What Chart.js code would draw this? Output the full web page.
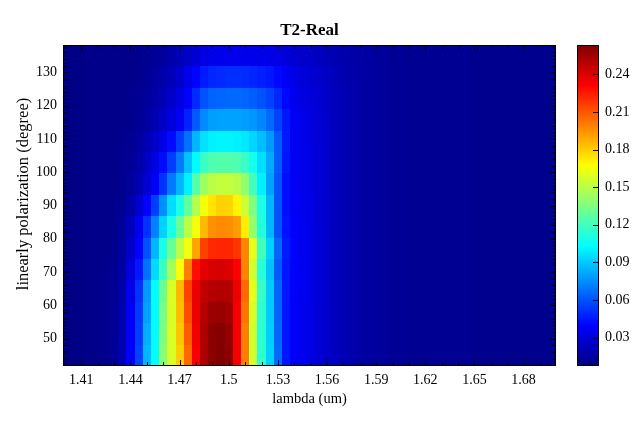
<!DOCTYPE html>
<html><head><meta charset="utf-8">
<script src="https://cdn.jsdelivr.net/npm/chart.js@4.4.0/dist/chart.umd.min.js"></script>
<style>html,body{margin:0;padding:0;background:#fff;}#wrap{width:640px;height:423px;position:relative;}canvas{display:block;}</style>
</head><body><div id="wrap"><canvas id="c" width="640" height="423"></canvas></div>
<script>
const chartTitle = 'T2-Real';
const xTitle = 'lambda (um)';
const yTitle = 'linearly polarization (degree)';
const lambdaValues = [1.400,1.405,1.410,1.415,1.420,1.425,1.430,1.435,1.440,1.445,1.450,1.455,1.460,1.465,1.470,1.475,1.480,1.485,1.490,1.495,1.500,1.505,1.510,1.515,1.520,1.525,1.530,1.535,1.540,1.545,1.550,1.555,1.560,1.565,1.570,1.575,1.580,1.585,1.590,1.595,1.600,1.605,1.610,1.615,1.620,1.625,1.630,1.635,1.640,1.645,1.650,1.655,1.660,1.665,1.670,1.675,1.680,1.685,1.690,1.695,1.700];
const polarizationValues = [45,51.43,57.86,64.29,70.71,77.14,83.57,90,96.43,102.86,109.29,115.71,122.14,128.57,135];
const xTickLabels = [1.41,1.44,1.47,1.5,1.53,1.56,1.59,1.62,1.65,1.68];
const yTickLabels = [50,60,70,80,90,100,110,120,130];
const colorbarTickLabels = [0.03,0.06,0.09,0.12,0.15,0.18,0.21,0.24];
const colorMin = 0.0074, colorMax = 0.2634;

const t2_045 = [0.008,0.009,0.009,0.010,0.010,0.011, 0.013,0.020,0.039,0.056,0.085,0.103,0.137,0.158,0.180,0.205,0.233,0.252,0.260,0.263,0.259,0.234,0.200,0.155,0.115,0.092,0.066,0.045,0.038,0.035,0.033, 0.029,0.026,0.023,0.021,0.019,0.017,0.016,0.015,0.014,0.013,0.013,0.012,0.012,0.012,0.012,0.012,0.012,0.012,0.012,0.011,0.011,0.011,0.011,0.011,0.011,0.011,0.011,0.011,0.011,0.011];
const t2_051 = [0.008,0.009,0.009,0.010,0.010,0.011, 0.013,0.020,0.038,0.055,0.083,0.103,0.135,0.158,0.182,0.208,0.235,0.252,0.260,0.262,0.258,0.234,0.200,0.155,0.114,0.091,0.065,0.045,0.038,0.035,0.033, 0.029,0.026,0.023,0.021,0.019,0.017,0.016,0.015,0.014,0.013,0.013,0.012,0.012,0.012,0.012,0.012,0.012,0.012,0.012,0.011,0.011,0.011,0.011,0.011,0.011,0.011,0.011,0.011,0.011,0.011];
const t2_058 = [0.008,0.009,0.009,0.010,0.010,0.011, 0.013,0.019,0.037,0.054,0.080,0.103,0.133,0.158,0.184,0.212,0.236,0.250,0.256,0.257,0.254,0.234,0.202,0.157,0.115,0.090,0.064,0.045,0.038,0.035,0.033, 0.029,0.026,0.023,0.021,0.019,0.017,0.016,0.015,0.014,0.013,0.013,0.012,0.012,0.012,0.012,0.012,0.012,0.012,0.012,0.011,0.011,0.011,0.011,0.011,0.011,0.011,0.011,0.011,0.011,0.011];
const t2_064 = [0.008,0.009,0.009,0.010,0.010,0.011, 0.012,0.018,0.035,0.052,0.078,0.103,0.130,0.158,0.185,0.215,0.236,0.247,0.250,0.251,0.250,0.236,0.205,0.160,0.117,0.090,0.064,0.045,0.039,0.036,0.033, 0.029,0.026,0.023,0.021,0.019,0.017,0.016,0.015,0.014,0.013,0.013,0.012,0.012,0.012,0.012,0.012,0.012,0.012,0.012,0.011,0.011,0.011,0.011,0.011,0.011,0.011,0.011,0.011,0.011,0.011];
const t2_071 = [0.008,0.009,0.009,0.010,0.010,0.011, 0.012,0.016,0.030,0.045,0.068,0.094,0.118,0.145,0.167,0.200,0.228,0.238,0.241,0.242,0.240,0.232,0.198,0.155,0.113,0.088,0.062,0.045,0.039,0.036,0.033, 0.029,0.026,0.023,0.021,0.019,0.017,0.016,0.015,0.014,0.013,0.013,0.012,0.012,0.012,0.012,0.012,0.012,0.012,0.012,0.011,0.011,0.011,0.011,0.011,0.011,0.011,0.011,0.011,0.011,0.011];
const t2_077 = [0.008,0.009,0.009,0.010,0.010,0.010, 0.011,0.015,0.026,0.040,0.060,0.085,0.110,0.130,0.150,0.165,0.190,0.215,0.221,0.222,0.222,0.218,0.198,0.160,0.120,0.092,0.065,0.046,0.040,0.036,0.033, 0.029,0.026,0.023,0.021,0.019,0.017,0.016,0.015,0.014,0.013,0.013,0.012,0.012,0.012,0.012,0.012,0.012,0.012,0.012,0.011,0.011,0.011,0.011,0.011,0.011,0.011,0.011,0.011,0.011,0.011];
const t2_084 = [0.008,0.009,0.009,0.010,0.010,0.010, 0.011,0.014,0.022,0.036,0.052,0.072,0.092,0.110,0.130,0.150,0.165,0.185,0.195,0.197,0.196,0.192,0.172,0.140,0.112,0.085,0.060,0.044,0.039,0.036,0.033, 0.029,0.026,0.023,0.021,0.019,0.017,0.016,0.015,0.014,0.013,0.013,0.012,0.012,0.012,0.012,0.012,0.012,0.012,0.012,0.011,0.011,0.011,0.011,0.011,0.011,0.011,0.011,0.011,0.011,0.011];
const t2_090 = [0.008,0.009,0.009,0.010,0.010,0.010, 0.010,0.012,0.018,0.027,0.040,0.055,0.075,0.095,0.110,0.128,0.148,0.165,0.174,0.179,0.178,0.170,0.155,0.135,0.110,0.085,0.060,0.043,0.038,0.035,0.033, 0.029,0.026,0.023,0.021,0.019,0.017,0.016,0.015,0.014,0.013,0.013,0.012,0.012,0.012,0.012,0.012,0.012,0.012,0.012,0.011,0.011,0.011,0.011,0.011,0.011,0.011,0.011,0.011,0.011,0.011];
const t2_096 = [0.008,0.009,0.009,0.010,0.010,0.010, 0.010,0.011,0.014,0.020,0.028,0.038,0.052,0.070,0.085,0.100,0.125,0.143,0.150,0.152,0.152,0.150,0.140,0.120,0.100,0.080,0.060,0.043,0.037,0.034,0.032, 0.029,0.026,0.023,0.021,0.019,0.017,0.016,0.015,0.014,0.013,0.013,0.012,0.012,0.012,0.012,0.012,0.012,0.012,0.012,0.011,0.011,0.011,0.011,0.011,0.011,0.011,0.011,0.011,0.011,0.011];
const t2_103 = [0.008,0.009,0.009,0.010,0.010,0.010, 0.010,0.011,0.013,0.017,0.024,0.032,0.042,0.055,0.070,0.088,0.103,0.118,0.123,0.124,0.124,0.123,0.118,0.108,0.095,0.082,0.062,0.045,0.037,0.034,0.032, 0.029,0.026,0.023,0.021,0.019,0.017,0.016,0.015,0.014,0.013,0.013,0.012,0.012,0.012,0.012,0.012,0.012,0.012,0.012,0.011,0.011,0.011,0.011,0.011,0.011,0.011,0.011,0.011,0.011,0.011];
const t2_109 = [0.008,0.009,0.009,0.010,0.010,0.010, 0.010,0.011,0.012,0.015,0.020,0.026,0.033,0.042,0.055,0.068,0.085,0.096,0.100,0.101,0.101,0.100,0.098,0.093,0.087,0.078,0.062,0.046,0.037,0.034,0.032, 0.029,0.026,0.023,0.021,0.019,0.017,0.016,0.015,0.014,0.013,0.013,0.012,0.012,0.012,0.012,0.012,0.012,0.012,0.012,0.011,0.011,0.011,0.011,0.011,0.011,0.011,0.011,0.011,0.011,0.011];
const t2_116 = [0.008,0.009,0.009,0.010,0.010,0.010, 0.010,0.010,0.011,0.013,0.016,0.020,0.025,0.031,0.037,0.048,0.062,0.074,0.079,0.080,0.080,0.080,0.079,0.077,0.073,0.066,0.056,0.045,0.037,0.034,0.031, 0.029,0.026,0.023,0.021,0.019,0.017,0.016,0.015,0.014,0.013,0.013,0.012,0.012,0.012,0.012,0.012,0.012,0.012,0.012,0.011,0.011,0.011,0.011,0.011,0.011,0.011,0.011,0.011,0.011,0.011];
const t2_122 = [0.008,0.009,0.009,0.010,0.010,0.010, 0.010,0.010,0.011,0.012,0.014,0.017,0.021,0.026,0.032,0.040,0.050,0.060,0.064,0.065,0.066,0.066,0.065,0.063,0.060,0.056,0.049,0.041,0.035,0.032,0.030, 0.028,0.025,0.023,0.021,0.019,0.017,0.016,0.015,0.014,0.013,0.013,0.012,0.012,0.012,0.012,0.012,0.012,0.012,0.012,0.011,0.011,0.011,0.011,0.011,0.011,0.011,0.011,0.011,0.011,0.011];
const t2_129 = [0.008,0.009,0.009,0.010,0.010,0.010, 0.010,0.010,0.010,0.011,0.013,0.015,0.018,0.022,0.027,0.034,0.040,0.046,0.049,0.050,0.051,0.051,0.050,0.049,0.047,0.045,0.041,0.037,0.033,0.030,0.028, 0.026,0.024,0.022,0.020,0.018,0.017,0.016,0.015,0.014,0.013,0.013,0.012,0.012,0.012,0.012,0.012,0.012,0.012,0.012,0.011,0.011,0.011,0.011,0.011,0.011,0.011,0.011,0.011,0.011,0.011];
const t2_135 = [0.008,0.009,0.009,0.010,0.010,0.010, 0.010,0.010,0.010,0.011,0.012,0.013,0.015,0.018,0.021,0.025,0.029,0.032,0.034,0.035,0.035,0.035,0.035,0.035,0.034,0.033,0.032,0.030,0.028,0.026,0.025, 0.023,0.022,0.020,0.019,0.018,0.017,0.016,0.015,0.014,0.013,0.013,0.012,0.012,0.012,0.012,0.012,0.012,0.012,0.012,0.011,0.011,0.011,0.011,0.011,0.011,0.011,0.011,0.011,0.011,0.011];
const t2Rows = [t2_045,t2_051,t2_058,t2_064,t2_071,t2_077,t2_084,t2_090,t2_096,t2_103,t2_109,t2_116,t2_122,t2_129,t2_135];

const cells = [];
t2Rows.forEach((row, i) => row.forEach((v, j) => cells.push({x: lambdaValues[j], y: polarizationValues[i], v, i, j})));

function edges(arr){
  const e = [];
  for (let k = 0; k <= arr.length; k++) {
    if (k === 0) e.push(arr[0] - (arr[1]-arr[0])/2);
    else if (k === arr.length) e.push(arr[k-1] + (arr[k-1]-arr[k-2])/2);
    else e.push((arr[k-1]+arr[k])/2);
  }
  return e;
}
const xEdges = edges(lambdaValues), yEdges = edges(polarizationValues);

function jet(t){
  t = Math.max(0, Math.min(1, t));
  const c = u => Math.round(255*Math.max(0, Math.min(1, u)));
  return 'rgb(' + c(1.5-Math.abs(4*t-3)) + ',' + c(1.5-Math.abs(4*t-2)) + ',' + c(1.5-Math.abs(4*t-1)) + ')';
}

const FONT = "'Liberation Serif', 'Times New Roman', serif";
const AREA = {left: 63, top: 45, right: 556, bottom: 366};

const heatPlugin = {
  id: 'heat',
  beforeDatasetsDraw(chart){
    const {ctx, chartArea: a, scales: {x, y}} = chart;
    ctx.save();
    ctx.beginPath(); ctx.rect(a.left, a.top, a.right-a.left, a.bottom-a.top); ctx.clip();
    chart.data.datasets[0].data.forEach(p => {
      const x0 = Math.round(x.getPixelForValue(xEdges[p.j])), x1 = Math.round(x.getPixelForValue(xEdges[p.j+1]));
      const y0 = Math.round(y.getPixelForValue(yEdges[p.i+1])), y1 = Math.round(y.getPixelForValue(yEdges[p.i]));
      ctx.fillStyle = jet((p.v - colorMin)/(colorMax - colorMin));
      ctx.fillRect(x0, y0, x1-x0, y1-y0);
    });
    ctx.restore();
  },
  afterDraw(chart){
    const {ctx, chartArea: a, scales: {x, y, cb}} = chart;
    ctx.save();
    ctx.strokeStyle = '#000'; ctx.lineWidth = 1;
    ctx.strokeRect(a.left+0.5, a.top+0.5, a.right-a.left-1, a.bottom-a.top-1);
    ctx.beginPath();
    for (let k = 140; k <= 169; k++) {
      const v = k/100;
      const major = xTickLabels.some(t => Math.abs(t-v) < 1e-6);
      const len = major ? 6 : 4;
      const px = Math.round(x.getPixelForValue(v)) + 0.5;
      ctx.moveTo(px, a.bottom); ctx.lineTo(px, a.bottom-len);
      ctx.moveTo(px, a.top); ctx.lineTo(px, a.top+len);
    }
    for (let v = 42; v <= 138; v += 2) {
      const major = yTickLabels.includes(v);
      const len = major ? 6 : 4;
      const py = Math.round(y.getPixelForValue(v)) + 0.5;
      ctx.moveTo(a.left, py); ctx.lineTo(a.left+len, py);
      ctx.moveTo(a.right, py); ctx.lineTo(a.right-len, py);
    }
    ctx.stroke();
    // colorbar
    const cbL = 577, cbR = 599;
    const top = Math.round(cb.getPixelForValue(colorMax)), bot = Math.round(cb.getPixelForValue(colorMin));
    for (let py = top; py < bot; py++) {
      const v = cb.getValueForPixel(py + 0.5);
      ctx.fillStyle = jet((v - colorMin)/(colorMax - colorMin));
      ctx.fillRect(cbL, py, cbR-cbL, 1);
    }
    ctx.strokeRect(cbL+0.5, top+0.5, cbR-cbL-1, bot-top-1);
    ctx.beginPath();
    colorbarTickLabels.forEach(v => {
      const py = Math.round(cb.getPixelForValue(v)) + 0.5;
      ctx.moveTo(cbR-6, py); ctx.lineTo(cbR, py);
    });
    ctx.stroke();
    ctx.fillStyle = '#000';
    ctx.font = '14px ' + FONT;
    ctx.textAlign = 'left';
    ctx.textBaseline = 'middle';
    colorbarTickLabels.forEach(v => {
      ctx.fillText(v.toFixed(2), 605, cb.getPixelForValue(v));
    });
    // texts
    const cx = (a.left + a.right)/2;
    ctx.textAlign = 'center';
    ctx.textBaseline = 'alphabetic';
    ctx.font = 'bold 17px ' + FONT;
    ctx.fillText(chartTitle, cx, 35);
    ctx.font = '14.5px ' + FONT;
    ctx.textBaseline = 'middle';
    ctx.fillText(xTitle, cx, 399);
    ctx.font = '16.5px ' + FONT;
    ctx.translate(24, 194);
    ctx.rotate(-Math.PI/2);
    ctx.fillText(yTitle, 0, 0);
    ctx.restore();
  }
};

const tickFont = {family: FONT, size: 14};
const chart = new Chart(document.getElementById('c'), {
  type: 'scatter',
  data: {datasets: [{data: cells, pointRadius: 0, pointHoverRadius: 0, borderWidth: 0, showLine: false}]},
  options: {
    responsive: false, animation: false, events: [],
    layout: {autoPadding: false, padding: {top: AREA.top, left: 0, right: 0, bottom: 0}},
    plugins: {legend: {display: false}, tooltip: {enabled: false}, title: {display: false}},
    scales: {
      x: {type: 'linear', position: 'bottom', min: 1.3988, max: 1.6998,
          grid: {display: false, drawTicks: false}, border: {display: false},
          afterBuildTicks: s => { s.ticks = xTickLabels.map(v => ({value: v})); },
          ticks: {font: tickFont, color: '#000', padding: 6, maxRotation: 0, autoSkip: false, callback: v => String(v)},
          afterFit: s => { s.height = 423 - AREA.bottom; }},
      y: {type: 'linear', position: 'left', min: 41.786, max: 138.214,
          grid: {display: false, drawTicks: false}, border: {display: false},
          afterBuildTicks: s => { s.ticks = yTickLabels.map(v => ({value: v})); },
          ticks: {font: tickFont, color: '#000', padding: 6, autoSkip: false, callback: v => String(v)},
          afterFit: s => { s.width = AREA.left; }},
      cb: {type: 'linear', position: 'right', min: colorMin, max: colorMax,
          grid: {display: false, drawTicks: false}, border: {display: false},
          ticks: {display: false},
          afterFit: s => { s.width = 640 - AREA.right; }}
    }
  },
  plugins: [heatPlugin]
});
</script>
</body></html>
